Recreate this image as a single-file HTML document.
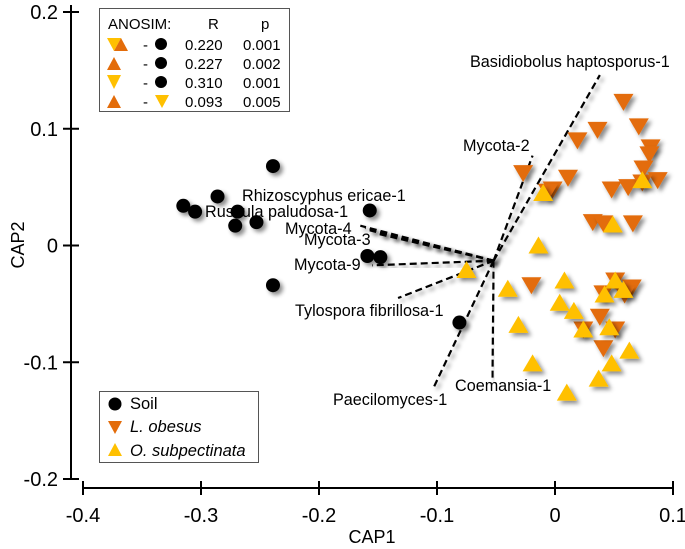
<!DOCTYPE html>
<html><head><meta charset="utf-8"><style>
body{margin:0;background:#fff}
svg{display:block;font-family:"Liberation Sans",Arial,sans-serif}
</style></head><body>
<svg id="c" width="685" height="549" viewBox="0 0 685 549">
<defs><filter id="sh" x="-50%" y="-50%" width="200%" height="200%"><feDropShadow dx="3" dy="3" stdDeviation="2" flood-color="#000" flood-opacity="0.45"/></filter></defs>
<g id="axes"></g>
<g id="vec"></g>
<g id="pts"></g>
<g>
<rect x="99.5" y="8.5" width="190" height="103" fill="#fff" stroke="#555"/>
<text x="108" y="29" font-size="15">ANOSIM:</text><text x="208" y="29" font-size="15">R</text><text x="261" y="29" font-size="15">p</text>
<g font-size="15">
<polygon points="107,38 121,38 114,51" fill="#FFC000"/><polygon points="121,38 114,51 128,51" fill="#E36C0A"/>
<text x="143" y="50">-</text><circle cx="161" cy="44" r="6"/><text x="185" y="50">0.220</text><text x="243" y="50">0.001</text>
<polygon points="114,57 107,70 121,70" fill="#E36C0A"/><text x="143" y="69">-</text><circle cx="161" cy="63" r="6"/><text x="185" y="69">0.227</text><text x="243" y="69">0.002</text>
<polygon points="107,75 121,75 114,89" fill="#FFC000"/><text x="143" y="88">-</text><circle cx="161" cy="82" r="6"/><text x="185" y="88">0.310</text><text x="243" y="88">0.001</text>
<polygon points="114,95 107,108 121,108" fill="#E36C0A"/><text x="143" y="107">-</text><polygon points="155,95 169,95 162,108" fill="#FFC000"/><text x="185" y="107">0.093</text><text x="243" y="107">0.005</text>
</g></g>
<g>
<rect x="99.5" y="391.5" width="159" height="71" fill="#fff" stroke="#555"/>
<circle cx="115" cy="404" r="6.5"/><text x="130" y="409" font-size="16.5">Soil</text>
<polygon points="108,421 122,421 115,434" fill="#E36C0A"/><text x="130" y="432" font-size="16.5" font-style="italic">L. obesus</text>
<polygon points="115,443 108,456 122,456" fill="#FFC000"/><text x="130" y="456" font-size="16.5" font-style="italic">O. subpectinata</text>
</g>
<text x="372" y="543" font-size="18" text-anchor="middle">CAP1</text>
<text transform="translate(24,245) rotate(-90)" font-size="18" text-anchor="middle">CAP2</text>
</svg>
<script>
const xTicks=[-0.4,-0.3,-0.2,-0.1,0,0.1];
const xTickLabels=["-0.4","-0.3","-0.2","-0.1","0","0.1"];
const yTicks=[0.2,0.1,0,-0.1,-0.2];
const yTickLabels=["0.2","0.1","0","-0.1","-0.2"];
const soilX=[-0.239,-0.286,-0.315,-0.305,-0.269,-0.271,-0.253,-0.157,-0.159,-0.148,-0.239,-0.081];
const soilY=[0.068,0.042,0.034,0.029,0.029,0.017,0.020,0.030,-0.009,-0.010,-0.034,-0.066];
const obesusX=[0.058,0.036,0.071,0.019,0.081,0.080,-0.027,0.011,0.075,0.087,0.048,0.062,0.074,-0.002,-0.006,0.032,0.041,0.066,-0.020,0.051,0.065,0.041,0.059,0.038,0.024,0.051,0.041];
const obesusY=[0.123,0.099,0.102,0.090,0.084,0.078,0.062,0.058,0.066,0.056,0.048,0.050,0.054,0.048,0.046,0.020,0.019,0.019,-0.034,-0.030,-0.036,-0.041,-0.042,-0.061,-0.072,-0.072,-0.088];
const subpX=[-0.010,0.074,0.049,-0.014,-0.040,0.008,0.004,0.016,0.051,0.042,0.058,0.024,0.046,-0.031,-0.019,0.063,0.048,0.037,0.010,-0.075];
const subpY=[0.045,0.056,0.018,0.000,-0.037,-0.030,-0.049,-0.056,-0.030,-0.042,-0.038,-0.072,-0.070,-0.068,-0.101,-0.090,-0.101,-0.114,-0.126,-0.021];
const vecOrigin=[-0.052,-0.013];
const vecNames=["Basidiobolus haptosporus-1","Mycota-2","Mycota-4","Rhizoscyphus ericae-1","Russula paludosa-1","Mycota-3","Mycota-9","Tylospora fibrillosa-1","Paecilomyces-1","Coemansia-1"];
const vecX=[0.038,-0.019,-0.165,-0.161,-0.157,-0.150,-0.155,-0.133,-0.103,-0.053];
const vecY=[0.146,0.077,0.017,0.015,0.013,0.010,-0.017,-0.045,-0.122,-0.115];
const labelPos=[[470,67],[463,151],[285,234],[242,201],[205,217],[304,245],[294,270],[295,316],[333,405],[455,391]];

const NS="http://www.w3.org/2000/svg";
const sx=v=>555+v*1180, sy=v=>245.5-v*1167.5;
function mk(t,a,p){const e=document.createElementNS(NS,t);for(const k in a)e.setAttribute(k,a[k]);p.appendChild(e);return e;}
const ax=document.getElementById('axes');
let l=mk('line',{x1:71,y1:5,x2:71,y2:479,stroke:'#000','stroke-width':2},ax);


l=mk('line',{x1:sx(-0.4),y1:488,x2:sx(0.1)+1,y2:488,stroke:'#000','stroke-width':2},ax);


xTicks.forEach((v,i)=>{
 mk('line',{x1:sx(v),y1:481,x2:sx(v),y2:495,stroke:'#000','stroke-width':2},ax);
 const t=mk('text',{x:sx(v),y:522,'font-size':20,'text-anchor':'middle'},ax);t.textContent=xTickLabels[i];
 
 
});
yTicks.forEach((v,i)=>{
 mk('line',{x1:63,y1:sy(v),x2:79,y2:sy(v),stroke:'#000','stroke-width':2},ax);
 const t=mk('text',{x:58,y:sy(v)+7,'font-size':20,'text-anchor':'end'},ax);t.textContent=yTickLabels[i];
 
 
});
const vg=document.getElementById('vec');
const ox=sx(vecOrigin[0]),oy=sy(vecOrigin[1]);
vecNames.forEach((n,i)=>{
 const ln=mk('line',{x1:ox,y1:oy,x2:sx(vecX[i]),y2:sy(vecY[i]),stroke:'#000','stroke-width':2.2,'stroke-dasharray':'7,4',filter:'url(#sh)'},vg);
 
 
});
const pg=document.getElementById('pts');
obesusX.forEach((v,i)=>{const x=sx(v),y=sy(obesusY[i]);
 const p=mk('polygon',{points:`${x-10},${y-8} ${x+10},${y-8} ${x},${y+9}`,fill:'#E36C0A',filter:'url(#sh)'},pg);
 
 });
subpX.forEach((v,i)=>{const x=sx(v),y=sy(subpY[i]);
 const p=mk('polygon',{points:`${x},${y-9} ${x-10},${y+8} ${x+10},${y+8}`,fill:'#FFC000',filter:'url(#sh)'},pg);
 
 });
soilX.forEach((v,i)=>{
 const c=mk('circle',{cx:sx(v),cy:sy(soilY[i]),r:7,fill:'#000',filter:'url(#sh)'},pg);
 
 });
vecNames.forEach((n,i)=>{
 const t=mk('text',{x:labelPos[i][0],y:labelPos[i][1],'font-size':16.2},pg);t.textContent=n;
 
 
});
</script>
</body></html>
